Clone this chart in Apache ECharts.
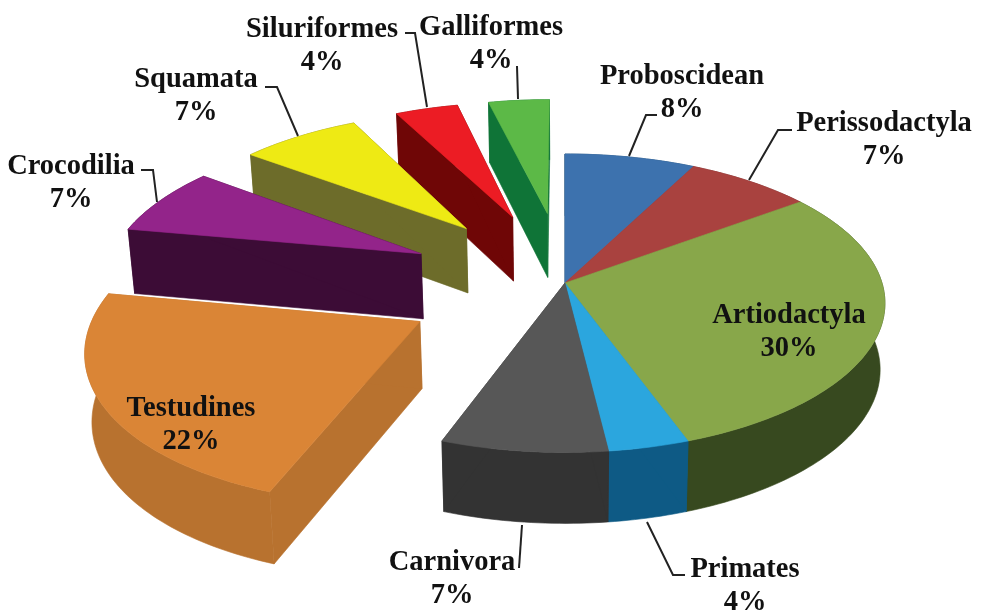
<!DOCTYPE html>
<html>
<head>
<meta charset="utf-8">
<title>Orders</title>
<style>
  html, body { margin: 0; padding: 0; background: #fff; }
  #chart { width: 982px; height: 611px; }
</style>
<script src="https://cdn.jsdelivr.net/npm/echarts@6/dist/echarts.min.js"></script>
</head>
<body>
<div id="chart"></div>
<script>
// Values; the labels round them
const categories = ['Proboscidean', 'Perissodactyla', 'Artiodactyla', 'Primates', 'Carnivora',
    'Testudines', 'Crocodilia', 'Squamata', 'Siluriformes', 'Galliformes'];
const shares = [7.5, 7.3, 29.7, 3.6, 7.4, 22.4, 7.4, 7.2, 3.8, 3.7];
const exploded = [false, false, false, false, false, true, true, true, true, true];

const topColors = ['#3d72ae', '#a9423f', '#88a74a', '#2ba6de', '#575757',
    '#da8536', '#93248a', '#eeea14', '#ec1c24', '#5cb947'];
const wallColors = ['#1f4a70', '#6e2a28', '#37491f', '#0e5a85', '#333333',
    '#b8722f', '#3c0c36', '#6d6c2a', '#6f0606', '#0f7437'];

// label centre and leader line for each category, in pixels
const labelPos = [[682, 93], [884, 140], [789, 332], [745, 586], [452, 579],
    [191, 425], [71, 183], [196, 96], [322, 46], [491, 44]];
const leaders = [
    [[629, 156], [646, 115], [657, 115]],
    [[749, 180], [778, 130], [792, 130]],
    [],
    [[647, 522], [673, 575], [685, 575]],
    [[522, 525], [519, 568]],
    [],
    [[157, 202], [153, 170], [141, 170]],
    [[298, 136], [277, 87], [265, 87]],
    [[427, 107], [415, 33], [405, 33]],
    [[518, 99], [517, 66]]
];

// perspective of the pie disc
const CX = 565, CY = 283, RX = 317, RY = 146.5, PERSP = 0.1353;
const DEPTH = 66, BOTTOM_SCALE = 0.985, EXPLODE = 0.51;

function project(u, v, lower) {
    const d = 1 - PERSP * v;
    let x = RX * u / d;
    let y = RY * v / d;
    if (lower) {
        x *= BOTTOM_SCALE;
        y += DEPTH / Math.sqrt(d);
    }
    return [CX + x, CY + y];
}

// starting share of each slice, clockwise from twelve o'clock
const starts = [];
shares.reduce(function (sum, s, i) { starts[i] = sum; return sum + s; }, 0);

function renderSlice(params, api) {
    const i = params.dataIndex;
    const start = api.value(0) / 100 * Math.PI * 2;
    const end = start + api.value(1) / 100 * Math.PI * 2;
    const mid = (start + end) / 2;
    const ox = exploded[i] ? Math.sin(mid) * EXPLODE : 0;
    const oy = exploded[i] ? -Math.cos(mid) * EXPLODE : 0;

    const steps = Math.max(4, Math.ceil((end - start) / 0.02));
    const arcTop = [], arcBottom = [];
    for (let s = 0; s <= steps; s++) {
        const a = start + (end - start) * s / steps;
        arcTop.push(project(ox + Math.sin(a), oy - Math.cos(a), false));
        arcBottom.push(project(ox + Math.sin(a), oy - Math.cos(a), true));
    }
    const apexTop = project(ox, oy, false);
    const apexBottom = project(ox, oy, true);

    // back to front: the far exploded slices first, the solid pie last
    const order = exploded[i] ? (categories.length - i) * 2 : 20;
    const topLevel = exploded[i] ? order + 1 : 30;
    const wallStyle = { fill: wallColors[i], stroke: wallColors[i], lineWidth: 0.6 };
    const walls = [
        arcTop.concat(arcBottom.slice().reverse()),
        [apexTop, arcTop[0], arcBottom[0], apexBottom],
        [apexTop, arcTop[steps], arcBottom[steps], apexBottom]
    ];

    const children = walls.map(function (pts) {
        return { type: 'polygon', z2: order, shape: { points: pts }, style: wallStyle };
    });
    children.push({
        type: 'polygon',
        z2: topLevel,
        shape: { points: [apexTop].concat(arcTop) },
        style: { fill: topColors[i], stroke: topColors[i], lineWidth: 0.6 }
    });
    if (leaders[i].length) {
        children.push({
            type: 'polyline',
            z2: 100,
            shape: { points: leaders[i] },
            style: { fill: null, stroke: '#222', lineWidth: 2 }
        });
    }
    children.push({
        type: 'text',
        z2: 101,
        x: labelPos[i][0],
        y: labelPos[i][1],
        style: {
            text: categories[i] + '\n' + Math.round(api.value(1)) + '%',
            fill: '#111',
            fontFamily: '"Liberation Serif"',
            fontWeight: 'bold',
            fontSize: 28.5,
            lineHeight: 33,
            textAlign: 'center',
            textVerticalAlign: 'middle'
        }
    });
    return { type: 'group', children: children };
}

const chart = echarts.init(document.getElementById('chart'));
chart.setOption({
    animation: false,
    backgroundColor: '#fff',
    series: [{
        type: 'custom',
        coordinateSystem: 'none',
        renderItem: renderSlice,
        data: shares.map(function (s, i) { return [starts[i], s]; })
    }]
});
</script>
</body>
</html>
